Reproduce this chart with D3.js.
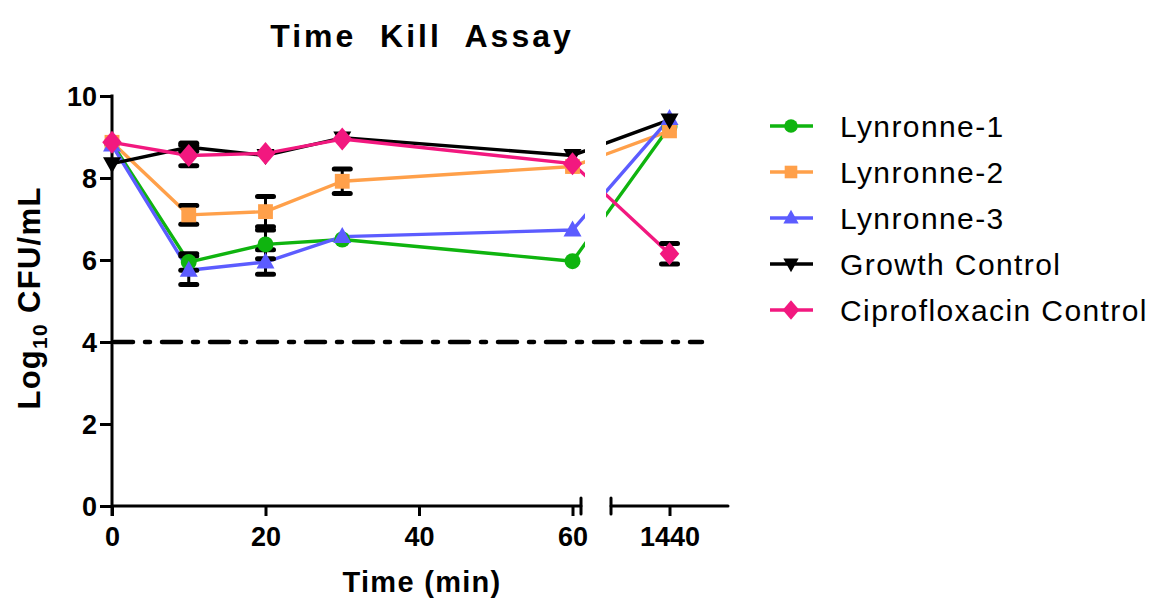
<!DOCTYPE html>
<html>
<head>
<meta charset="utf-8">
<script src="https://cdn.jsdelivr.net/npm/d3@7"></script>
<style>
  html, body { margin: 0; padding: 0; background: #fff; }
  svg { display: block; font-family: "Liberation Sans", Arial, sans-serif; }
</style>
</head>
<body>
<svg id="chart" width="1154" height="601"></svg>
<script>
// Sampling times (min); 1440 sits on its own axis segment after the break
const times = [0, 10, 20, 30, 60, 1440];

// Mean log10 CFU/mL per treatment
const lynronne1 = [8.85, 5.95, 6.38, 6.50, 5.97, 9.25];
const lynronne2 = [8.87, 7.10, 7.18, 7.92, 8.28, 9.15];
const lynronne3 = [8.80, 5.75, 5.95, 6.57, 6.73, 9.45];
const growthControl = [8.35, 8.75, 8.55, 8.98, 8.55, 9.42];
const ciproControl = [8.87, 8.55, 8.60, 8.95, 8.35, 6.15];

// Error (± half-width); 0 means the bar is hidden behind the symbol
const lynronne1Err = [0, 0.20, 0.35, 0, 0, 0];
const lynronne2Err = [0, 0.23, 0.37, 0.30, 0, 0];
const lynronne3Err = [0, 0.35, 0.30, 0, 0, 0];
const growthErr = [0, 0.10, 0, 0, 0, 0];
const ciproErr = [0, 0.25, 0, 0, 0, 0.25];

const seriesNames = ["Lynronne-1", "Lynronne-2", "Lynronne-3", "Growth Control", "Ciprofloxacin Control"];
const seriesColors = ["#0fb40f", "#ffa04a", "#5c5cff", "#000000", "#f2187f"];
const seriesSymbols = ["circle", "square", "triangleUp", "triangleDown", "diamond"];

const xTicksLeft = [0, 20, 40, 60];
const xTicksRight = [1440];
const yTicks = [0, 2, 4, 6, 8, 10];
const detectionLimit = 4;

const series = seriesNames.map((name, i) => ({
  name,
  color: seriesColors[i],
  symbol: seriesSymbols[i],
  values: [lynronne1, lynronne2, lynronne3, growthControl, ciproControl][i],
  err: [lynronne1Err, lynronne2Err, lynronne3Err, growthErr, ciproErr][i]
}));

const svg = d3.select("#chart");

// Scales: broken x axis (0–60 min, then 24 h)
const xLeft = d3.scaleLinear().domain([0, 60]).range([112, 572.5]);
const xRight = d3.scalePoint().domain([1440]).range([611, 728]).padding(0.5);
const x = t => (t <= 60 ? xLeft(t) : xRight(t));
const y = d3.scaleLinear().domain([0, 10]).range([506, 96]);

const leftEnd = 581, rightStart = 611, rightEnd = 728;
const axisY = y(0);
const tickFont = "27px";

// Clip regions so the data lines are interrupted in the axis break
const defs = svg.append("defs");
defs.append("clipPath").attr("id", "clipL")
  .append("rect").attr("x", 0).attr("y", 0).attr("width", 585).attr("height", 601);
defs.append("clipPath").attr("id", "clipR")
  .append("rect").attr("x", 606).attr("y", 0).attr("width", 548).attr("height", 601);

// Title
svg.append("text")
  .attr("x", 422).attr("y", 47)
  .attr("text-anchor", "middle")
  .style("font-size", "32px").style("font-weight", "bold")
  .style("letter-spacing", "3px")
  .style("white-space", "pre")
  .text("Time  Kill  Assay");

// Y axis
const yAxis = d3.axisLeft(y).tickValues(yTicks).tickSize(12).tickSizeOuter(0).tickPadding(3);
const gy = svg.append("g").attr("transform", "translate(112,0)").call(yAxis);
gy.select(".domain").remove();
gy.selectAll(".tick line").attr("stroke", "#000").attr("stroke-width", 3);
gy.selectAll(".tick text").style("font-size", tickFont).style("font-weight", "bold")
  .style("font-family", "'Liberation Sans', Arial, sans-serif").attr("fill", "#000").attr("dy", "0.36em");
svg.append("line").attr("x1", 112).attr("x2", 112).attr("y1", y(10) - 1.5).attr("y2", axisY + 10)
  .attr("stroke", "#000").attr("stroke-width", 3);

// X axis, left segment
const xAxisL = d3.axisBottom(xLeft).tickValues(xTicksLeft).tickSize(10).tickSizeOuter(0).tickPadding(11);
const gxl = svg.append("g").attr("transform", `translate(0,${axisY})`).call(xAxisL);
gxl.select(".domain").remove();
// X axis, right segment
const xAxisR = d3.axisBottom(xRight).tickValues(xTicksRight).tickSize(10).tickSizeOuter(0).tickPadding(11);
const gxr = svg.append("g").attr("transform", `translate(0,${axisY})`).call(xAxisR);
gxr.select(".domain").remove();
[gxl, gxr].forEach(g => {
  g.selectAll(".tick line").attr("stroke", "#000").attr("stroke-width", 3);
  g.selectAll(".tick text").style("font-size", tickFont).style("font-weight", "bold")
    .style("font-family", "'Liberation Sans', Arial, sans-serif").attr("fill", "#000");
});
const axisStroke = { stroke: "#000", "stroke-width": 3, "stroke-linecap": "round" };
function seg(x1, y1, x2, y2) {
  const l = svg.append("line").attr("x1", x1).attr("y1", y1).attr("x2", x2).attr("y2", y2);
  Object.entries(axisStroke).forEach(([k, v]) => l.attr(k, v));
}
seg(112, axisY, leftEnd, axisY);
seg(leftEnd, axisY - 8, leftEnd, axisY + 8);
seg(rightStart, axisY, rightEnd, axisY);
seg(rightStart, axisY - 8, rightStart, axisY + 8);

// Axis titles
svg.append("text")
  .attr("x", 422).attr("y", 592)
  .attr("text-anchor", "middle")
  .style("font-size", "29px").style("font-weight", "bold").style("letter-spacing", "1.3px")
  .text("Time (min)");

const yl = svg.append("text")
  .attr("transform", "translate(40,298) rotate(-90)")
  .attr("text-anchor", "middle")
  .style("font-size", "31px").style("font-weight", "bold").style("letter-spacing", "1.3px");
yl.append("tspan").text("Log");
yl.append("tspan").attr("dy", 7).style("font-size", "21px").text("10");
yl.append("tspan").attr("dy", -7).text(" CFU/mL");

// Detection limit
svg.append("line")
  .attr("x1", 114).attr("x2", 702)
  .attr("y1", y(detectionLimit)).attr("y2", y(detectionLimit))
  .attr("stroke", "#000").attr("stroke-width", 4.5)
  .attr("stroke-linecap", "round")
  .attr("stroke-dasharray", "19,12,5,12");

// Symbol generators
const symbolSize = { circle: 200, square: 220 };
function symbolPath(kind) {
  if (kind === "circle") return d3.symbol(d3.symbolCircle, symbolSize.circle)();
  if (kind === "square") return d3.symbol(d3.symbolSquare, symbolSize.square)();
  if (kind === "diamond") {
    const s = 11.5;
    return `M0,${-s}L${s * 0.85},0L0,${s}L${-s * 0.85},0Z`;
  }
  const h = 16, w = 18;
  if (kind === "triangleUp") return `M0,${-h * 0.6}L${w / 2},${h * 0.4}L${-w / 2},${h * 0.4}Z`;
  return `M0,${h * 0.6}L${w / 2},${-h * 0.4}L${-w / 2},${-h * 0.4}Z`;
}

const line = d3.line().x((d, i) => x(times[i])).y(d => y(d));

["clipL", "clipR"].forEach(id => {
  const g = svg.append("g").attr("clip-path", `url(#${id})`);
  // Lines
  g.selectAll("path.series").data(series).join("path")
    .attr("class", "series")
    .attr("d", s => line(s.values))
    .attr("fill", "none").attr("stroke", s => s.color).attr("stroke-width", 3.4)
    .attr("stroke-linejoin", "round");
  // Error bars
  series.forEach(s => {
    s.values.forEach((v, i) => {
      const e = s.err[i];
      if (!e) return;
      const cx = x(times[i]);
      g.append("line").attr("x1", cx).attr("x2", cx).attr("y1", y(v + e)).attr("y2", y(v - e))
        .attr("stroke", "#000").attr("stroke-width", 3);
      [v + e, v - e].forEach(b => {
        g.append("line").attr("x1", cx - 8).attr("x2", cx + 8).attr("y1", y(b)).attr("y2", y(b))
          .attr("stroke", "#000").attr("stroke-width", 5).attr("stroke-linecap", "round");
      });
    });
  });
  // Markers
  series.forEach(s => {
    g.selectAll(null).data(s.values).join("path")
      .attr("d", symbolPath(s.symbol))
      .attr("transform", (d, i) => `translate(${x(times[i])},${y(d)})`)
      .attr("fill", s.color);
  });
});

// Legend
const legend = svg.append("g");
const legendY = d3.scalePoint().domain(seriesNames).range([126, 310]);
series.forEach(s => {
  const ly = legendY(s.name);
  legend.append("line").attr("x1", 770).attr("x2", 813).attr("y1", ly).attr("y2", ly)
    .attr("stroke", s.color).attr("stroke-width", 3.4);
  legend.append("path").attr("d", symbolPath(s.symbol))
    .attr("transform", `translate(791,${ly}) scale(0.85)`).attr("fill", s.color);
  legend.append("text").attr("x", 840).attr("y", ly + 11)
    .style("font-size", "30px").style("letter-spacing", "1.4px").attr("fill", "#000")
    .text(s.name);
});
</script>
</body>
</html>
